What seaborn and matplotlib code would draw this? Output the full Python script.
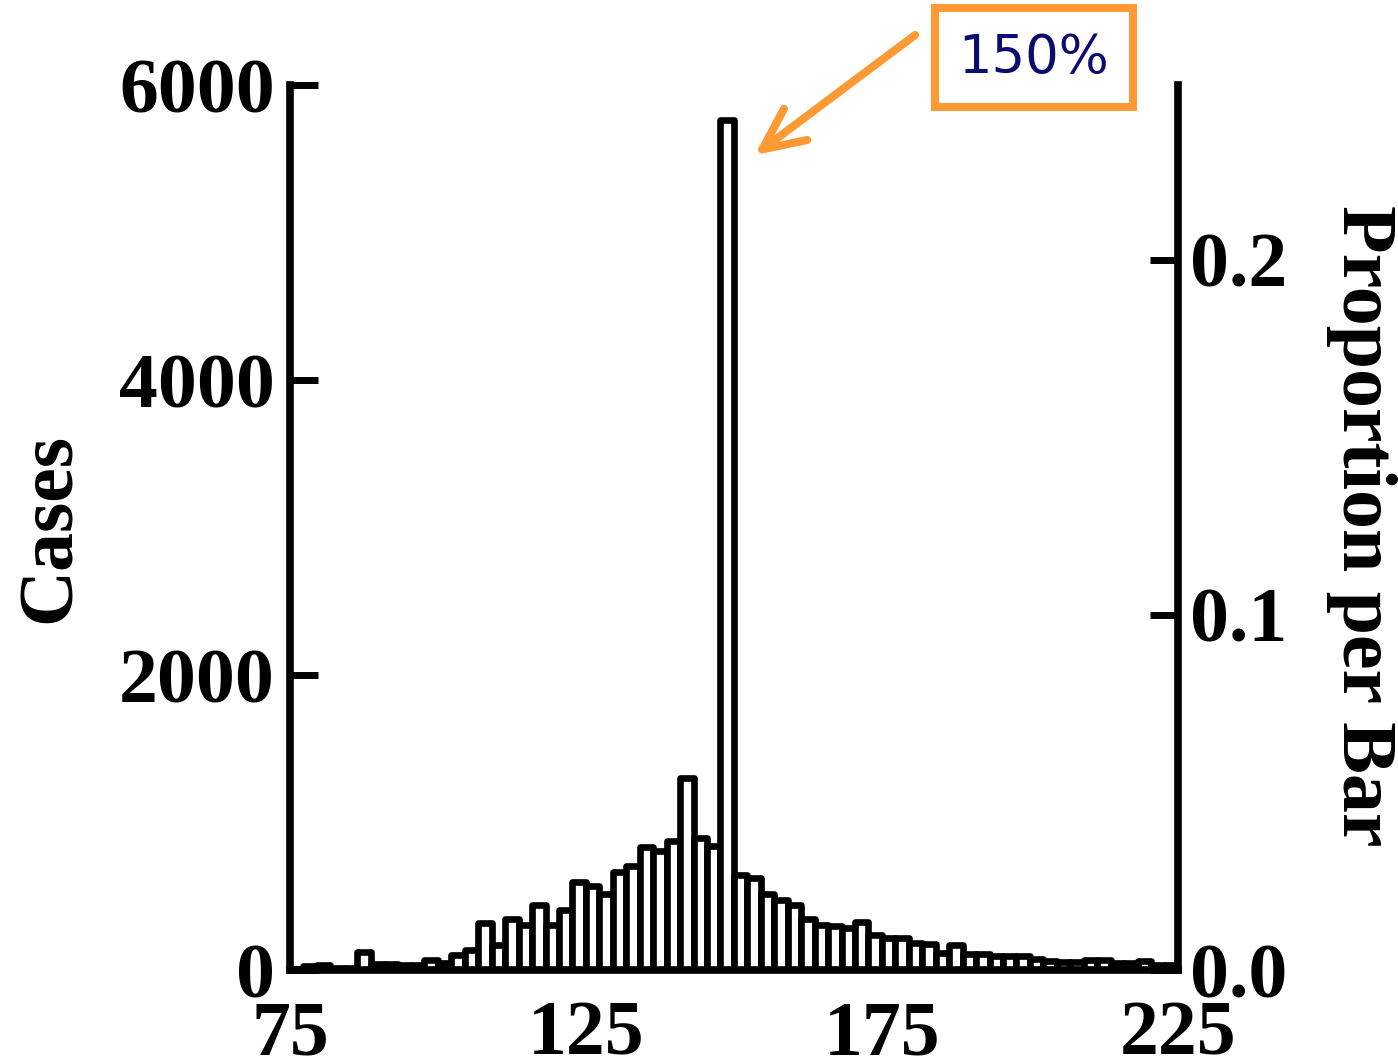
import numpy as np
import pandas as pd
import matplotlib
matplotlib.use("Agg")
import matplotlib.pyplot as plt
import seaborn as sns

# Histogram: 66 equal-width bins from 75 to 225, counts per bin
bin_edges = np.linspace(75, 225, 67)
counts = [
    10, 30, 35, 15, 15, 120, 40, 40, 35, 35,
    70, 45, 100, 135, 318, 173, 343, 303, 438, 303,
    408, 598, 573, 518, 668, 708, 833, 808, 878, 1303,
    898, 838, 5760, 643, 623, 518, 478, 438, 343, 308,
    298, 283, 328, 235, 217, 215, 182, 179, 117, 172,
    112, 107, 97, 97, 92, 77, 59, 54, 54, 67,
    67, 45, 45, 59, 37, 32,
]
bin_centers = (bin_edges[:-1] + bin_edges[1:]) / 2
hist_df = pd.DataFrame({"value": bin_centers, "cases": counts})

x_ticks = [75, 125, 175, 225]
y_ticks = [0, 2000, 4000, 6000]
prop_ticks = [0.0, 0.1, 0.2]
y_max = 6000
callout_text = "150%"
orange = "#ff9933"

sns.set_style("ticks")
plt.rcParams["font.family"] = ["Liberation Serif", "DejaVu Serif"]
plt.rcParams["font.weight"] = "bold"
for key in ["text.color", "axes.labelcolor", "xtick.color", "ytick.color",
            "axes.edgecolor"]:
    plt.rcParams[key] = "black"

fig = plt.figure(figsize=(13.98, 10.64), dpi=100)
ax = fig.add_axes([0.2074, 0.0883, 0.6352, 0.8318])

sns.histplot(
    data=hist_df, x="value", weights="cases", bins=list(bin_edges), ax=ax,
    color="white", edgecolor="black", linewidth=4.8, alpha=1.0,
)
for p in ax.patches:
    p.set_joinstyle("round")
    p.set_facecolor("white")

ax.set_xlim(75, 225)
ax.set_ylim(0, y_max)
ax.set_xticks(x_ticks)
ax.set_yticks(y_ticks)
ax.set_xticklabels([str(v) for v in x_ticks])
ax.set_yticklabels([str(v) for v in y_ticks])

for lab in ax.get_xticklabels() + ax.get_yticklabels():
    lab.set_fontsize(56)
    lab.set_fontweight("bold")

ax.tick_params(axis="x", length=0, pad=22)
ax.tick_params(axis="y", direction="in", length=20, width=5, pad=11)

ax.set_xlabel("")
ax.set_ylabel("Cases", fontsize=56, fontweight="bold")
ax.yaxis.set_label_coords(-0.269, 0.5)
ax.yaxis.label.set_verticalalignment("center")

for side in ["left", "bottom"]:
    ax.spines[side].set_linewidth(5.5)
ax.spines["top"].set_visible(False)
ax.spines["right"].set_visible(False)

# Secondary axis: proportion of all cases per bar
total = float(np.sum(counts))
ax2 = ax.twinx()
ax2.set_ylim(0, y_max / total)
ax2.set_yticks(prop_ticks)
ax2.set_yticklabels([f"{v:.1f}" for v in prop_ticks])
for lab in ax2.get_yticklabels():
    lab.set_fontsize(56)
    lab.set_fontweight("bold")
ax2.tick_params(axis="y", direction="in", length=20, width=5, pad=9)
ax2.set_ylabel("Proportion per Bar", fontsize=56, fontweight="bold", rotation=270)
ax2.yaxis.set_label_coords(1.207, 0.502)
ax2.yaxis.label.set_verticalalignment("center")
ax2.spines["right"].set_linewidth(5.5)
for side in ["left", "top", "bottom"]:
    ax2.spines[side].set_visible(False)

# Callout box and arrow pointing at the tallest bar
ax.text(
    200.7, 6186, callout_text, ha="center", va="center", clip_on=False,
    fontsize=38, fontweight="normal", family="DejaVu Sans", color="#0b0b70",
    bbox=dict(boxstyle="square,pad=0.45", facecolor="white",
              edgecolor=orange, linewidth=5.8),
)
ax.annotate(
    "", xy=(153.5, 5525), xytext=(180.6, 6339),
    textcoords="data", annotation_clip=False,
    arrowprops=dict(arrowstyle="->,head_length=1.5,head_width=0.7",
                    mutation_scale=20, color=orange, linewidth=5.8,
                    shrinkA=0, shrinkB=0,
                    capstyle="round", joinstyle="round"),
)

fig.savefig("out.png", dpi=100)
